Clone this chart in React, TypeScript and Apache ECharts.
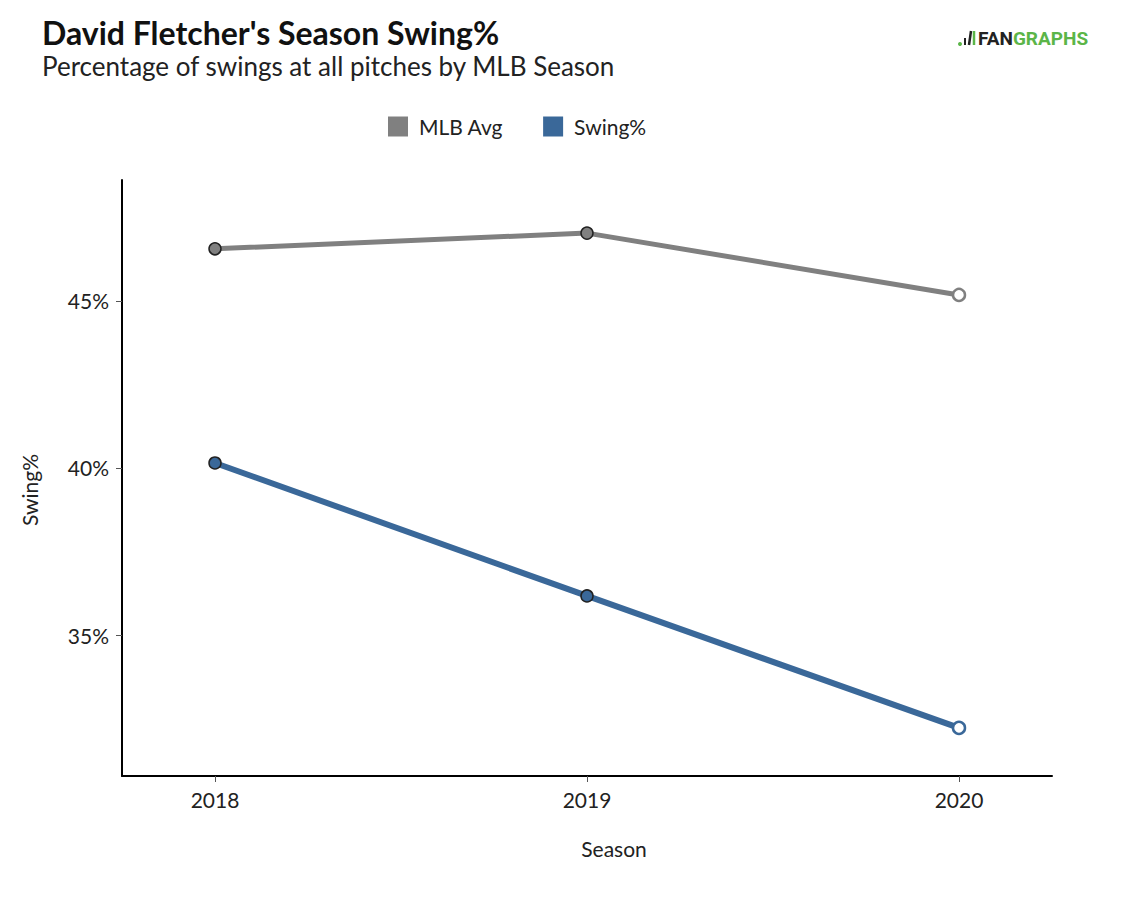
import { useEffect, useRef } from 'react';
import * as echarts from 'echarts';

const seasons = [2018, 2019, 2020];
const mlbAvg = [46.56, 47.03, 45.18];
const swingPct = [40.15, 36.17, 32.22];
const yTicks = [35, 40, 45];

const GREY = '#808080';
const BLUE = '#3a6899';
const FONT = 'Lato, "Open Sans", sans-serif';

// last season is drawn as a hollow point
const toPoints = (values: number[], color: string) =>
  values.map((v, i) => {
    const last = i === values.length - 1;
    return {
      value: [seasons[i], v],
      itemStyle: last
        ? { color: '#fff', borderColor: color, borderWidth: 2.5 }
        : { color, borderColor: '#222', borderWidth: 1.5 },
    };
  });

export default function App() {
  const chartRef = useRef<HTMLDivElement>(null);

  useEffect(() => {
    document.body.style.margin = '0';
    if (!chartRef.current) return;

    const chart = echarts.init(chartRef.current, undefined, { renderer: 'svg' });

    const option: echarts.EChartsOption = {
      animation: false,
      textStyle: { fontFamily: FONT },
      title: [
        {
          text: "David Fletcher's Season Swing%",
          left: 37,
          top: 11,
          textStyle: { fontSize: 32, fontWeight: 'bold', color: '#111', fontFamily: FONT },
        },
        {
          text: 'Percentage of swings at all pitches by MLB Season',
          left: 37,
          top: 48,
          textStyle: { fontSize: 26, fontWeight: 'normal', color: '#222', fontFamily: FONT },
        },
      ],
      graphic: [
        // small logo mark
        { type: 'circle', shape: { cx: 960, cy: 44, r: 2 }, style: { fill: '#5bb548' } },
        { type: 'line', shape: { x1: 965, y1: 45, x2: 965, y2: 38 }, style: { stroke: '#222', lineWidth: 2 } },
        { type: 'line', shape: { x1: 969, y1: 45, x2: 971, y2: 31 }, style: { stroke: '#222', lineWidth: 2.5 } },
        { type: 'line', shape: { x1: 974, y1: 45, x2: 974, y2: 31 }, style: { stroke: '#5bb548', lineWidth: 2.5 } },
        {
          type: 'text',
          left: 978,
          top: 29,
          style: {
            text: '{a|FAN}{b|GRAPHS}',
            rich: {
              a: { fontSize: 19, fontWeight: 'bold', fill: '#222', fontFamily: 'Roboto, sans-serif' },
              b: { fontSize: 19, fontWeight: 'bold', fill: '#5bb548', fontFamily: 'Roboto, sans-serif' },
            },
          },
        },
      ],
      legend: {
        top: 111,
        left: 383,
        icon: 'rect',
        itemWidth: 20,
        itemHeight: 20,
        itemGap: 40,
        itemStyle: { borderWidth: 0 },
        textStyle: { fontSize: 21, color: '#222', fontFamily: FONT, padding: [0, 0, 0, 6] },
        data: ['MLB Avg', 'Swing%'],
      },
      grid: { left: 122, right: 71, top: 180, bottom: 126 },
      xAxis: {
        type: 'value',
        min: 2017.75,
        max: 2020.25,
        name: 'Season',
        nameLocation: 'middle',
        nameGap: 62,
        nameTextStyle: { fontSize: 21, color: '#222', fontFamily: FONT, padding: [0, 0, 0, 54] },
        axisLine: { lineStyle: { color: '#000', width: 2 } },
        axisTick: { show: true, length: 6, customValues: seasons, lineStyle: { color: '#555', width: 1 } },
        axisLabel: {
          customValues: seasons,
          formatter: (v: number) => String(v),
          fontSize: 21,
          color: '#222',
          margin: 13,
          fontFamily: FONT,
        },
        splitLine: { show: false },
      },
      yAxis: {
        type: 'value',
        min: 30.78,
        max: 48.62,
        name: 'Swing%',
        nameLocation: 'middle',
        nameGap: 82,
        nameTextStyle: { fontSize: 21, color: '#222', fontFamily: FONT, padding: [0, 24, 0, 0] },
        axisLine: { show: true, lineStyle: { color: '#000', width: 2 } },
        axisTick: { show: true, length: 6, customValues: yTicks, lineStyle: { color: '#555', width: 1 } },
        axisLabel: {
          customValues: yTicks,
          formatter: (v: number) => `${v}%`,
          fontSize: 21,
          color: '#222',
          margin: 13,
          fontFamily: FONT,
        },
        splitLine: { show: false },
      },
      series: [
        {
          name: 'MLB Avg',
          type: 'line',
          data: toPoints(mlbAvg, GREY),
          color: GREY,
          symbol: 'circle',
          symbolSize: 12,
          lineStyle: { color: GREY, width: 5 },
          itemStyle: { color: GREY },
          z: 2,
        },
        {
          name: 'Swing%',
          type: 'line',
          data: toPoints(swingPct, BLUE),
          color: BLUE,
          symbol: 'circle',
          symbolSize: 12,
          lineStyle: { color: BLUE, width: 6 },
          itemStyle: { color: BLUE },
          z: 3,
        },
      ],
    };

    chart.setOption(option);

    const onResize = () => chart.resize();
    window.addEventListener('resize', onResize);

    return () => {
      window.removeEventListener('resize', onResize);
      chart.dispose();
    };
  }, []);

  return <div ref={chartRef} style={{ width: '1123px', height: '902px' }}></div>;
}
